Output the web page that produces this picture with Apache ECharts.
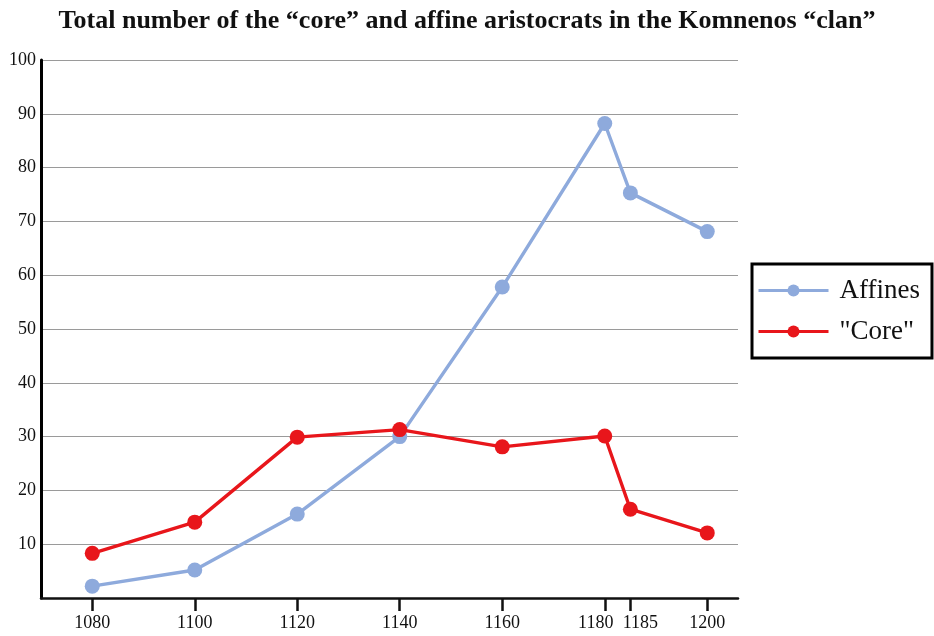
<!DOCTYPE html>
<html><head><meta charset="utf-8">
<script src="https://cdn.jsdelivr.net/npm/echarts@6/dist/echarts.min.js"></script>
<style>html,body{margin:0;padding:0;background:#fff}#c{width:934px;height:636px}</style>
</head><body><div id="c"></div>
<script>
const years = [1080, 1100, 1120, 1140, 1160, 1180, 1185, 1200];
const affines = [2.2, 5.2, 15.6, 30.0, 57.8, 88.2, 75.3, 68.1];
const core = [8.3, 14.1, 29.9, 31.3, 28.1, 30.1, 16.5, 12.1];
const xTicks = [1080, 1100, 1120, 1140, 1160, 1180, 1185, 1200];
const yTicks = [10, 20, 30, 40, 50, 60, 70, 80, 90, 100];
const seriesNames = ['Affines', '"Core"'];
const titleText = 'Total number of the \u201ccore\u201d and affine aristocrats in the Komnenos \u201cclan\u201d';

const font = 'Liberation Serif';
const chart = echarts.init(document.getElementById('c'));
chart.setOption({
  backgroundColor: '#fff',
  animation: false,
  title: {
    text: titleText, left: 'center', top: 3,
    textStyle: { fontFamily: font, fontWeight: 'bold', fontSize: 26, color: '#111' }
  },
  legend: {
    orient: 'vertical', left: 752, top: 264,
    borderColor: '#000', borderWidth: 3, padding: [13, 12, 13, 5],
    itemWidth: 70, itemHeight: 15, itemGap: 14,
    lineStyle: { width: 3 },
    textStyle: { fontFamily: font, fontSize: 27, color: '#111', padding: [0, 0, 0, 6] },
    data: seriesNames
  },
  grid: { left: 41, right: 196, top: 60, bottom: 38, containLabel: false },
  xAxis: {
    type: 'value', min: 1070, max: 1206,
    axisLine: { show: true, lineStyle: { color: '#111', width: 2.5 } },
    axisTick: { show: true, customValues: xTicks, length: 13, inside: false, lineStyle: { color: '#111', width: 2.5 } },
    axisLabel: {
      customValues: xTicks, margin: 16, hideOverlap: false,
      fontFamily: font, fontSize: 18, color: '#111',
      formatter: v => v === 1180 ? '{l|' + v + '}' : (v === 1185 ? '{r|' + v + '}' : String(v)),
      rich: {
        l: { fontFamily: font, fontSize: 18, color: '#111', padding: [0, 18, 0, 0] },
        r: { fontFamily: font, fontSize: 18, color: '#111', padding: [0, 0, 0, 20] }
      }
    },
    splitLine: { show: false }
  },
  yAxis: {
    type: 'value', min: 0, max: 100, interval: 10,
    axisLine: { show: true, onZero: false, lineStyle: { color: '#000', width: 3 } },
    axisTick: { show: false },
    axisLabel: { margin: 5, fontFamily: font, fontSize: 18, color: '#111',
      formatter: v => (yTicks.indexOf(v) >= 0 ? String(v) : '') },
    splitLine: { show: true, lineStyle: { color: '#9a9a9a', width: 1.2 } }
  },
  series: [
    { name: seriesNames[0], type: 'line', data: years.map((y, i) => [y, affines[i]]),
      color: '#8eaadc', symbol: 'circle', symbolSize: 15,
      lineStyle: { width: 3.4 }, itemStyle: { color: '#8eaadc' } },
    { name: seriesNames[1], type: 'line', data: years.map((y, i) => [y, core[i]]),
      color: '#e8161b', symbol: 'circle', symbolSize: 15,
      lineStyle: { width: 3.4 }, itemStyle: { color: '#e8161b' } }
  ]
});
</script></body></html>
